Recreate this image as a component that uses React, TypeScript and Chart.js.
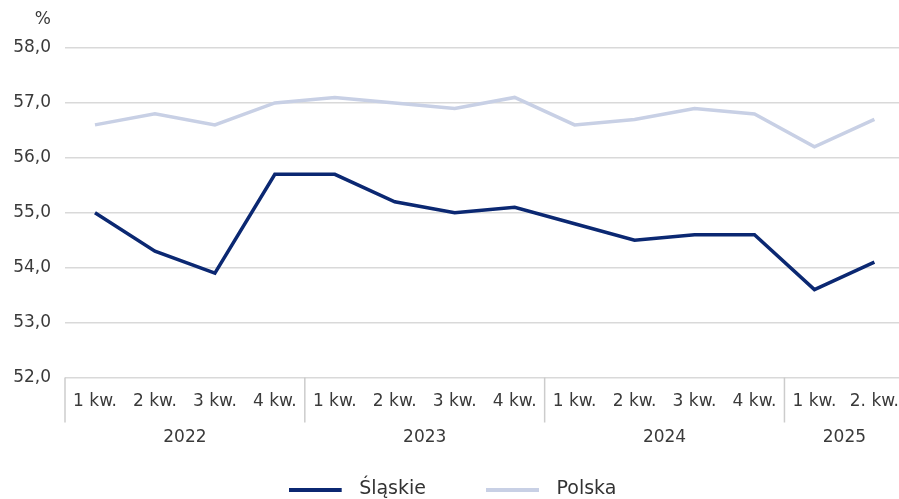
import React, { useEffect, useRef } from "react";
import { Chart, registerables } from "chart.js";

Chart.register(...registerables);

const QUARTERS = ["1 kw.", "2 kw.", "3 kw.", "4 kw.", "1 kw.", "2 kw.", "3 kw.", "4 kw.", "1 kw.", "2 kw.", "3 kw.", "4 kw.", "1 kw.", "2. kw."];
const YEARS = ["2022", "2023", "2024", "2025"];
const YEAR_SIZES = [4, 4, 4, 2];
const SLASKIE = [55.0, 54.3, 53.9, 55.7, 55.7, 55.2, 55.0, 55.1, 54.8, 54.5, 54.6, 54.6, 53.6, 54.1];
const POLSKA = [56.6, 56.8, 56.6, 57.0, 57.1, 57.0, 56.9, 57.1, 56.6, 56.7, 56.9, 56.8, 56.2, 56.7];
const Y_MIN = 52;
const Y_MAX = 58;
const Y_STEP = 1;
const UNIT = "%";

const DARK = "#0b2872";
const LIGHT = "#c8d0e5";
const TEXT = "#3a3a3a";
const GRID = "#d9d9d9";
const FONT = "'DejaVu Sans', sans-serif";

function legendImage(color: string): HTMLCanvasElement {
  const c = document.createElement("canvas");
  c.width = 61;
  c.height = 4;
  const g = c.getContext("2d")!;
  g.fillStyle = color;
  g.fillRect(0, 0, 53, 4);
  return c;
}

export default function App() {
  const ref = useRef<HTMLCanvasElement | null>(null);

  useEffect(() => {
    if (!ref.current) return;
    const imgs = [legendImage(DARK), legendImage(LIGHT)];

    const decor = {
      id: "decor",
      afterDraw(chart: any) {
        const ctx = chart.ctx;
        const x = chart.scales.x;
        const y = chart.scales.y;
        const area = chart.chartArea;
        ctx.save();
        ctx.strokeStyle = "#cccccc";
        ctx.lineWidth = 1.5;
        ctx.fillStyle = TEXT;
        ctx.font = `17px ${FONT}`;
        ctx.textAlign = "center";
        ctx.textBaseline = "middle";
        let start = 0;
        YEAR_SIZES.forEach((n, gi) => {
          const px = start === 0 ? area.left : (x.getPixelForTick(start - 1) + x.getPixelForTick(start)) / 2;
          ctx.beginPath();
          ctx.moveTo(px, area.bottom);
          ctx.lineTo(px, area.bottom + 45);
          ctx.stroke();
          const cx = (x.getPixelForTick(start) + x.getPixelForTick(start + n - 1)) / 2;
          ctx.fillText(YEARS[gi], cx, area.bottom + 60);
          start += n;
        });
        ctx.textAlign = "right";
        ctx.fillText(UNIT, y.right - 14, area.top - 28);
        ctx.restore();
      },
    };

    const chart = new Chart(ref.current, {
      type: "line",
      data: {
        labels: QUARTERS,
        datasets: [
          { label: "Śląskie", data: SLASKIE, borderColor: DARK, backgroundColor: DARK, borderWidth: 3.5, pointRadius: 0, tension: 0 },
          { label: "Polska", data: POLSKA, borderColor: LIGHT, backgroundColor: LIGHT, borderWidth: 3.5, pointRadius: 0, tension: 0 },
        ],
      },
      options: {
        animation: false,
        responsive: false,
        layout: { padding: { top: 48, left: 0, right: 0, bottom: 0 } },
        plugins: {
          tooltip: { enabled: false },
          legend: {
            position: "bottom",
            align: "center",
            labels: {
              usePointStyle: true,
              pointStyleWidth: 61,
              boxHeight: 4,
              padding: 60,
              color: "#333333",
              font: { family: FONT, size: 19 },
              generateLabels: (c: any) => {
                const items = (Chart.defaults.plugins.legend.labels as any).generateLabels(c);
                items.forEach((it: any, i: number) => {
                  it.pointStyle = imgs[i];
                  it.lineWidth = 0;
                });
                return items;
              },
            },
          },
        },
        scales: {
          x: {
            type: "category",
            offset: true,
            position: "bottom",
            grid: { display: false },
            border: { display: false },
            ticks: { color: TEXT, font: { family: FONT, size: 17 }, padding: 6, autoSkip: false, maxRotation: 0 },
            afterFit: (s: any) => { s.height = 42.5; },
          },
          y: {
            min: Y_MIN,
            max: Y_MAX,
            border: { display: false },
            grid: { color: GRID, lineWidth: 1.5, drawTicks: false },
            ticks: {
              stepSize: Y_STEP,
              padding: 14,
              color: TEXT,
              font: { family: FONT, size: 17 },
              callback: (v: any) => Number(v).toFixed(1).replace(".", ","),
            },
            afterFit: (s: any) => { s.width = 65; },
          },
        },
      } as any,
      plugins: [decor],
    });
    return () => chart.destroy();
  }, []);

  return (
    <div style={{ position: "fixed", left: 0, top: 0, width: 899, height: 499, overflow: "hidden", background: "#fff" }}>
      <canvas ref={ref} width={905} height={509} style={{ display: "block" }} />
    </div>
  );
}
